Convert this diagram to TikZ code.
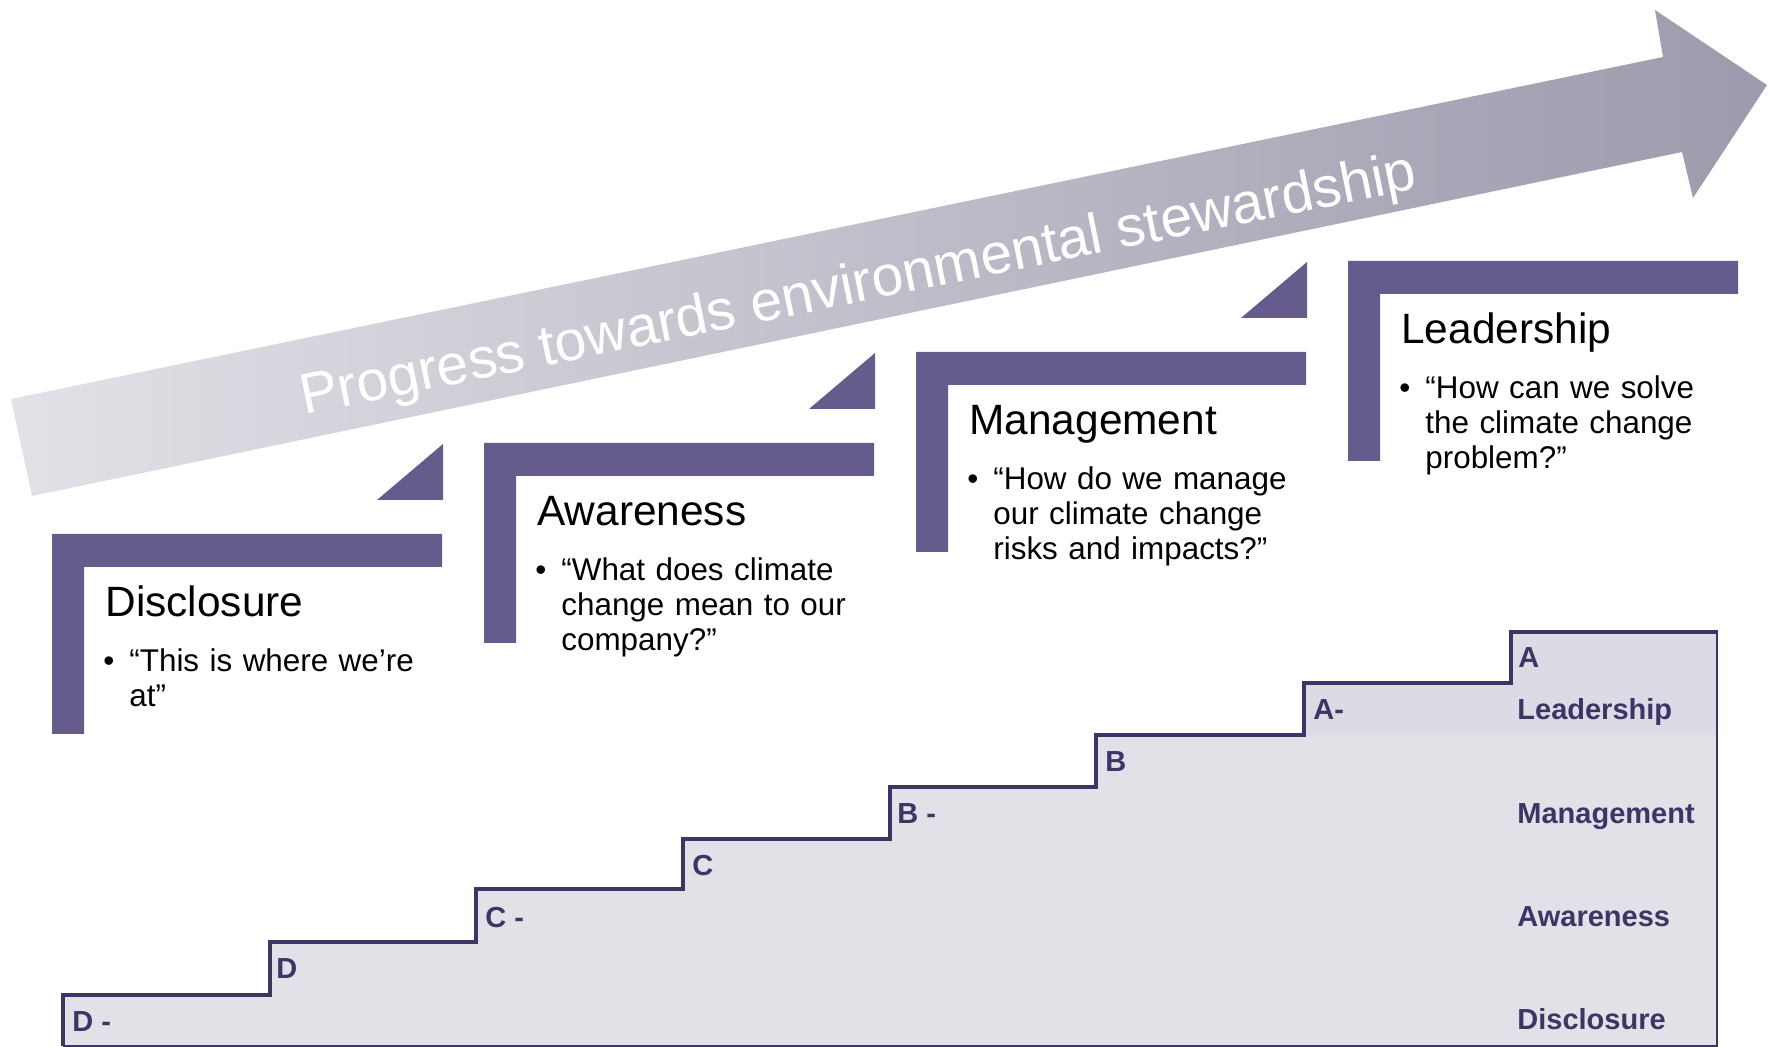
\documentclass[tikz,border=0pt]{standalone}
\usepackage{fontspec}
\setmainfont{Liberation Sans}
\definecolor{lpurple}{RGB}{101,91,140}
\definecolor{stairline}{RGB}{62,53,102}
\definecolor{stairfill}{RGB}{226,225,232}
\definecolor{stairtop}{RGB}{220,218,229}
\definecolor{arrowL}{RGB}{226,225,231}
\definecolor{arrowR}{RGB}{156,154,172}
\begin{document}
\begin{tikzpicture}[x=0.5pt,y=-0.5pt,
  lshape/.style={fill=lpurple},
  ttl/.style={anchor=base west,inner sep=0,font=\fontsize{21.2}{24}\selectfont},
  bul/.style={anchor=base west,inner sep=0,font=\fontsize{15.7}{17.5}\selectfont},
  quot/.style={anchor=base west,inner sep=0,font=\fontsize{15.7}{17.5}\selectfont,text width=170pt,align=left},
  stairlbl/.style={anchor=base west,inner sep=0,text=stairline,font=\bfseries\fontsize{14.5}{14.5}\selectfont},
  thickstair/.style={draw=stairline,line width=1.75pt,line join=miter},
  thinstair/.style={draw=stairline,line width=1pt}]
\useasboundingbox (0,0) rectangle (1773,1047);

% big arrow
\shade[left color=arrowL,right color=arrowR]
  (11,399) -- (1663,57) -- (1655,10) -- (1767,85) -- (1693,198) -- (1682,152) -- (32,496) -- cycle;
\node[rotate=11.5,anchor=base west,inner sep=0,text=white,font=\fontsize{28.5}{30}\selectfont]
  (prog) at (304,415) {Progress towards environmental stewardship};

% L shapes with texts
\begin{scope}[shift={(52,534)}]
  \fill[lshape] (0,0) -- (390,0) -- (390,33) -- (32,33) -- (32,200) -- (0,200) -- cycle;
  \node[ttl] (t1) at (53,82.5) {Disclosure};
  \node[bul] (b1) at (51,138) {•};
  \node[quot] (q1) at (77,138) {“This is where we’re\\at”};
\end{scope}
\begin{scope}[shift={(484,443)}]
  \fill[lshape] (-41,1) -- (-41,57) -- (-107,57) -- cycle;
  \fill[lshape] (0,0) -- (390,0) -- (390,33) -- (32,33) -- (32,200) -- (0,200) -- cycle;
  \node[ttl] (t2) at (53,82.5) {Awareness};
  \node[bul] (b2) at (51,138) {•};
  \node[quot] (q2) at (77,138) {“What does climate\\change mean to our\\company?”};
\end{scope}
\begin{scope}[shift={(916,352)}]
  \fill[lshape] (-41,1) -- (-41,57) -- (-107,57) -- cycle;
  \fill[lshape] (0,0) -- (390,0) -- (390,33) -- (32,33) -- (32,200) -- (0,200) -- cycle;
  \node[ttl] (t3) at (53,82.5) {Management};
  \node[bul] (b3) at (51,138) {•};
  \node[quot] (q3) at (77,138) {“How do we manage\\our climate change\\risks and impacts?”};
\end{scope}
\begin{scope}[shift={(1348,261)}]
  \fill[lshape] (-41,1) -- (-41,57) -- (-107,57) -- cycle;
  \fill[lshape] (0,0) -- (390,0) -- (390,33) -- (32,33) -- (32,200) -- (0,200) -- cycle;
  \node[ttl] (t4) at (53,82.5) {Leadership};
  \node[bul] (b4) at (51,138) {•};
  \node[quot] (q4) at (77,138) {“How can we solve\\the climate change\\problem?”};
\end{scope}

% staircase
\begin{scope}
  \clip (63,1046) -- (63,995) -- (270,995) -- (270,942) -- (476,942) -- (476,889) -- (683,889) -- (683,839) -- (890,839) -- (890,787) -- (1096,787) -- (1096,735) -- (1304,735) -- (1304,683) -- (1511,683) -- (1511,632) -- (1717,632) -- (1717,1046) -- cycle;
  \fill[stairfill] (60,630) rectangle (1720,1048);
  \fill[stairtop] (60,630) rectangle (1720,735);
\end{scope}
\draw[thinstair] (1717,632) -- (1717,1046) -- (63,1046);
\draw[thickstair] (63,1046) -- (63,995) -- (270,995) -- (270,942) -- (476,942) -- (476,889) -- (683,889) -- (683,839) -- (890,839) -- (890,787) -- (1096,787) -- (1096,735) -- (1304,735) -- (1304,683) -- (1511,683) -- (1511,632) -- (1718,632);

\node[stairlbl] (g1) at (72,1031) {D -};
\node[stairlbl] (g2) at (276,978) {D};
\node[stairlbl] (g3) at (485,927) {C -};
\node[stairlbl] (g4) at (692,875) {C};
\node[stairlbl] (g5) at (897,823) {B -};
\node[stairlbl] (g6) at (1105,771) {B};
\node[stairlbl] (g7) at (1313,719) {A-};
\node[stairlbl] (g8) at (1518,668) {A};

\node[stairlbl] (r1) at (1517,719) {Leadership};
\node[stairlbl] (r2) at (1517,823) {Management};
\node[stairlbl] (r3) at (1517,926) {Awareness};
\node[stairlbl] (r4) at (1517,1029) {Disclosure};
\end{tikzpicture}
\end{document}
